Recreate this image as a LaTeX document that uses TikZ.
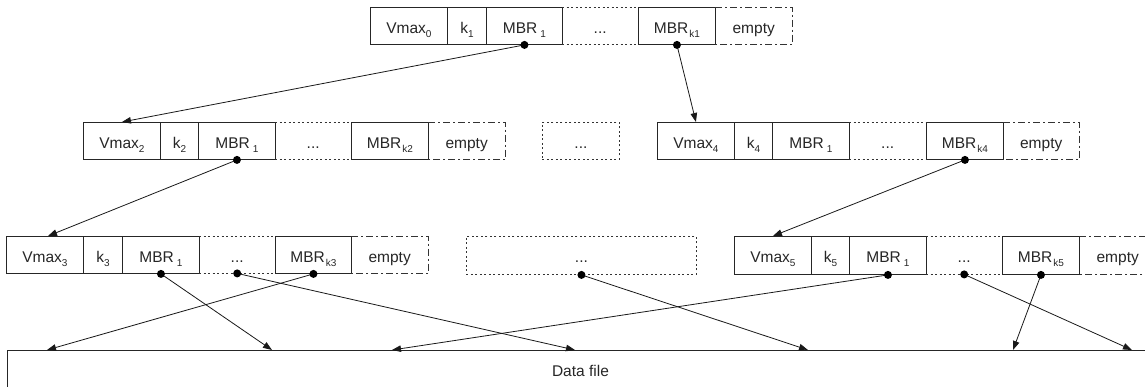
\documentclass[tikz,border=0pt]{standalone}
\usepackage{fontspec}
\setmainfont{Liberation Sans}
\usetikzlibrary{arrows.meta}
\newcommand\sbx[1]{\raisebox{-0.45ex}{\fontsize{10bp}{10bp}\selectfont #1}}
\tikzset{
  cell/.style={anchor=north west, minimum height=37bp, inner sep=0pt,
    text height=16bp, text depth=1bp,
    font=\fontsize{15.5bp}{17bp}\selectfont, text=black!85},
  solidcell/.style={cell, draw=black!85, line width=0.9bp},
  dotl/.style={draw=black!80, line width=0.9bp, dash pattern=on 2bp off 2.5bp},
  dashdotl/.style={draw=black!80, line width=0.9bp, dash pattern=on 7bp off 3bp on 2bp off 3bp},
  link/.style={draw=black!90, line width=0.8bp, -{Triangle[length=9bp,width=6.5bp]}},
  dotend/.style={fill=black},
}
\begin{document}
\begin{tikzpicture}[x=1bp,y=-1bp]
\useasboundingbox (0,0) rectangle (1145,386);
\clip (0,0) rectangle (1145,386);

% ---------- Row 1 ----------
\node[solidcell, minimum width=77bp] (v0) at (370,7) {Vmax\sbx{0}};
\node[solidcell, minimum width=39bp] (k1) at (447,7) {k\sbx{1}};
\node[solidcell, minimum width=76bp] (m01) at (486,7) {MBR\hspace{3bp}\sbx{1}};
\node[cell, minimum width=76bp] (d0) at (562,7) {...};
\node[solidcell, minimum width=77bp] (mk1) at (638,7) {MBR\hspace{1bp}\sbx{k1}};
\node[cell, minimum width=77bp] (e0) at (715,7) {empty};

% ---------- Row 2 left ----------
\node[solidcell, minimum width=77bp] (v2) at (83,122) {Vmax\sbx{2}};
\node[solidcell, minimum width=38bp] (k2) at (160,122) {k\sbx{2}};
\node[solidcell, minimum width=77bp] (m21) at (198,122) {MBR\hspace{3bp}\sbx{1}};
\node[cell, minimum width=76bp] (d2) at (275,122) {...};
\node[solidcell, minimum width=77bp] (mk2) at (351,122) {MBR\hspace{1bp}\sbx{k2}};
\node[cell, minimum width=77bp] (e2) at (428,122) {empty};

% ---------- Row 2 middle ----------
\node[cell, minimum width=77bp, dotl] (dm2) at (542,122) {...};

% ---------- Row 2 right ----------
\node[solidcell, minimum width=77bp] (v4) at (657,122) {Vmax\sbx{4}};
\node[solidcell, minimum width=38bp] (k4) at (734,122) {k\sbx{4}};
\node[solidcell, minimum width=77bp] (m41) at (772,122) {MBR\hspace{3bp}\sbx{1}};
\node[cell, minimum width=77bp] (d4) at (849,122) {...};
\node[solidcell, minimum width=77bp] (mk4) at (926,122) {MBR\hspace{1bp}\sbx{k4}};
\node[cell, minimum width=76bp] (e4) at (1003,122) {empty};

% ---------- Row 3 left ----------
\node[solidcell, minimum width=77bp] (v3) at (6,236) {Vmax\sbx{3}};
\node[solidcell, minimum width=39bp] (k3) at (83,236) {k\sbx{3}};
\node[solidcell, minimum width=77bp] (m31) at (122,236) {MBR\hspace{3bp}\sbx{1}};
\node[cell, minimum width=76bp] (d3) at (199,236) {...};
\node[solidcell, minimum width=76bp] (mk3) at (275,236) {MBR\hspace{1bp}\sbx{k3}};
\node[cell, minimum width=77bp] (e3) at (351,236) {empty};

% ---------- Row 3 middle ----------
\node[cell, minimum width=230bp, minimum height=38bp, dotl] (dm3) at (466,236) {...};

% ---------- Row 3 right ----------
\node[solidcell, minimum width=77bp, minimum height=38bp] (v5) at (734,236) {Vmax\sbx{5}};
\node[solidcell, minimum width=38bp, minimum height=38bp] (k5) at (811,236) {k\sbx{5}};
\node[solidcell, minimum width=77bp, minimum height=38bp] (m51) at (849,236) {MBR\hspace{3bp}\sbx{1}};
\node[cell, minimum width=76bp, minimum height=38bp] (d5) at (926,236) {...};
\node[solidcell, minimum width=77bp, minimum height=38bp] (mk5) at (1002,236) {MBR\hspace{1bp}\sbx{k5}};
\node[cell, minimum width=77bp, minimum height=38bp] (e5) at (1079,236) {empty};

% ---------- Data file ----------
\node[cell, draw=black!85, line width=0.9bp, minimum width=1146bp, minimum height=38bp] (df) at (7,350) {Data file};

% ---------- dotted and dash-dotted borders ----------
\foreach \n in {d0,d2,d4,d3,d5}{
  \draw[dotl] (\n.north west) -- (\n.north east) (\n.south west) -- (\n.south east);
}
\foreach \n in {e0,e2,e4,e3,e5}{
  \draw[dashdotl] (\n.north west) -- (\n.north east) -- (\n.south east) -- (\n.south west);
}

% ---------- target coordinates on data file ----------
\coordinate (t1) at (47,350);
\coordinate (t2) at (272,350);
\coordinate (t3) at (392,350);
\coordinate (t4) at (575,350);
\coordinate (t5) at (808,350);
\coordinate (t6) at (1013,350);
\coordinate (t7) at (1132,350);
\coordinate (v3in) at (48,236);

% ---------- links ----------
\draw[link] (m01.south) -- (v2.north);
\draw[link] (mk1.south) -- (v4.north);
\draw[link] (m21.south) -- (v3in);
\draw[link] (mk4.south) -- (v5.north);

\draw[link] (m31.south) -- (t2);
\draw[link] (d3.south) -- (t4);
\draw[link] (mk3.south) -- (t1);
\draw[link] (dm3.south) -- (t5);
\draw[link] (m51.south) -- (t3);
\draw[link] (d5.south) -- (t7);
\draw[link] (mk5.south) -- (t6);

% ---------- dots ----------
\foreach \n in {m01,mk1,m21,mk4,m31,d3,mk3,dm3,m51,d5,mk5}{
  \fill[dotend] (\n.south) circle (4bp);
}
\end{tikzpicture}
\end{document}
